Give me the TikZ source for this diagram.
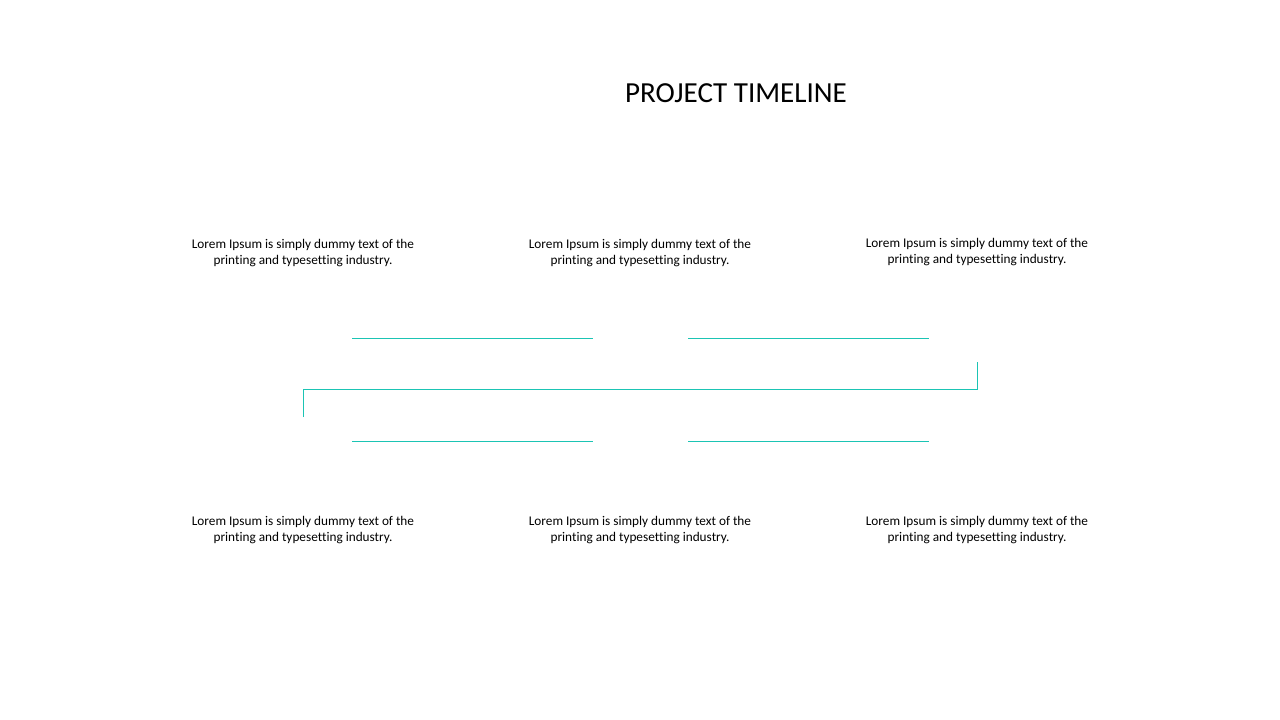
\documentclass[tikz,border=0pt]{standalone}
\usepackage{fontspec}
\setmainfont{Carlito}[Ligatures={NoCommon}]
\usetikzlibrary{positioning}
\definecolor{tealline}{HTML}{1BC4B4}

\begin{document}
\begin{tikzpicture}[x=0.75pt, y=-0.75pt, semithick,
    blurb/.style={align=center, font=\fontsize{9.95}{12}\selectfont, inner sep=0pt},
    tick/.style={draw=tealline, line width=0.75pt}]
    \useasboundingbox (0,0) rectangle (1280,720);
    \node [font=\fontsize{21.8}{26}\selectfont] (title) at (736,93.5) {PROJECT TIMELINE};
    \node [blurb] (up1) at (303,253) {Lorem Ipsum is simply dummy text of the\\printing and typesetting industry.};
    \node [blurb] (up2) at (640,253) {Lorem Ipsum is simply dummy text of the\\printing and typesetting industry.};
    \node [blurb] (up3) at (977,252) {Lorem Ipsum is simply dummy text of the\\printing and typesetting industry.};
    \node [blurb] (lo1) at (303,530) {Lorem Ipsum is simply dummy text of the\\printing and typesetting industry.};
    \node [blurb] (lo2) at (640,530) {Lorem Ipsum is simply dummy text of the\\printing and typesetting industry.};
    \node [blurb] (lo3) at (977,530) {Lorem Ipsum is simply dummy text of the\\printing and typesetting industry.};
    % main timeline
    \coordinate (start) at (303,417);
    \coordinate (left) at (303,389.5);
    \coordinate (right) at (977,389.5);
    \coordinate (end) at (977,362);
    \draw [tick] (start) -- (left) -- (right) -- (end);
    \draw [tick] (352,338) -- (593,338);
    \draw [tick] (688,338) -- (929,338);
    \draw [tick] (352,441) -- (593,441);
    \draw [tick] (688,441) -- (929,441);
\end{tikzpicture}
\end{document}
